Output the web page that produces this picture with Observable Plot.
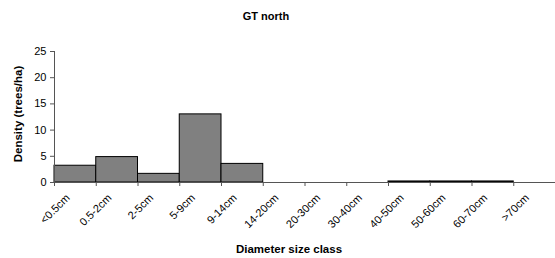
<!DOCTYPE html>
<html>
<head>
<meta charset="utf-8">
<script src="https://cdn.jsdelivr.net/npm/d3@7"></script>
<script src="https://cdn.jsdelivr.net/npm/@observablehq/plot@0.6"></script>
<style>
  html, body { margin: 0; padding: 0; background: #fff; }
  #chart svg { display: block; font-family: "Liberation Sans", Arial, sans-serif; }
</style>
</head>
<body>
<div id="chart"></div>
<script>
const title = "GT north";
const xTitle = "Diameter size class";
const yTitle = "Density (trees/ha)";
const categories = ["<0.5cm", "0.5-2cm", "2-5cm", "5-9cm", "9-14cm", "14-20cm", "20-30cm", "30-40cm", "40-50cm", "50-60cm", "60-70cm", ">70cm"];
const densities = [3.2, 4.85, 1.65, 13.0, 3.55, 0, 0, 0, 0.2, 0.2, 0.2, 0];
const yTicks = [0, 5, 10, 15, 20, 25];

const data = categories.map((c, i) => ({cat: c, i, v: densities[i]}));
const edges = d3.range(0, categories.length + 1);
const axisColor = "#555";

const plot = Plot.plot({
  width: 555,
  height: 258,
  marginLeft: 54,
  marginRight: 0,
  marginTop: 51,
  marginBottom: 76,
  style: {fontFamily: "Liberation Sans, Arial, sans-serif", fontSize: "11px", color: "#000", background: "#fff"},
  x: {domain: [0, categories.length]},
  y: {domain: [0, 25]},
  marks: [
    Plot.rectY(data.filter(d => d.v > 0), {x1: "i", x2: d => d.i + 1, y: "v", fill: "#808080", stroke: "#000", strokeWidth: 1}),
    Plot.ruleY([0], {stroke: axisColor}),
    Plot.ruleX([0], {stroke: axisColor}),
    Plot.axisX({ticks: edges, tickSize: 4, tickFormat: () => "", stroke: axisColor, label: null}),
    Plot.axisY({ticks: yTicks, tickSize: 4, tickPadding: 4, stroke: axisColor, fill: "#000", fontSize: 11, label: null}),
    Plot.text(data, {x: d => d.i + 0.5, y: 0, text: "cat", rotate: -45, textAnchor: "end", lineAnchor: "bottom", dx: -5, dy: 16, fontSize: 11, fill: "#000"}),
    Plot.text([title], {frameAnchor: "top", dx: -39, dy: -39, fontSize: 11, fontWeight: "bold", fill: "#000"}),
    Plot.text([xTitle], {frameAnchor: "bottom", dx: -16, dy: 70, fontSize: 11.5, fontWeight: "bold", fill: "#000"}),
    Plot.text([yTitle], {frameAnchor: "left", rotate: -90, textAnchor: "middle", dx: -36, dy: -3, fontSize: 11.5, fontWeight: "bold", fill: "#000"})
  ]
});
document.getElementById("chart").appendChild(plot);
</script>
</body>
</html>
